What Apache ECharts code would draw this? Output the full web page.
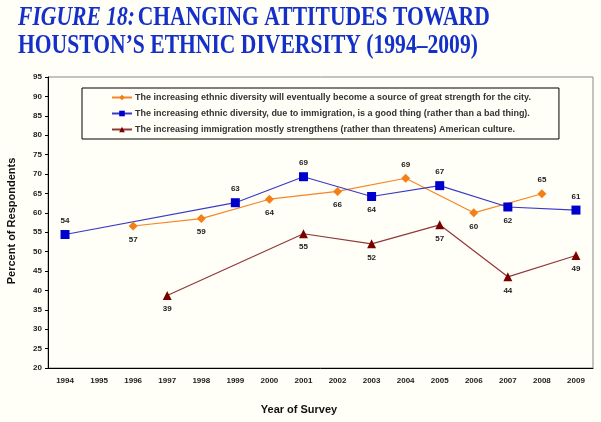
<!DOCTYPE html>
<html>
<head>
<meta charset="utf-8">
<script src="https://cdn.jsdelivr.net/npm/echarts@6/dist/echarts.min.js"></script>
<style>
  html, body { margin: 0; padding: 0; background: #fffef7; }
  #chart { width: 601px; height: 422px; }
</style>
</head>
<body>
<div id="chart"></div>
<script>
// 调查年份
const years = ["1994", "1995", "1996", "1997", "1998", "1999", "2000", "2001",
  "2002", "2003", "2004", "2005", "2006", "2007", "2008", "2009"];

const seriesNames = [
  "The increasing ethnic diversity will eventually become a source of great strength for the city.",
  "The increasing ethnic diversity, due to immigration, is a good thing (rather than a bad thing).",
  "The increasing immigration mostly strengthens (rather than threatens) American culture."
];

// 各年数值 (null = 当年未调查)
const strengthValues = [null, null, 56.6, null, 58.5, null, 63.5, null,
  65.5, null, 68.9, null, 60.0, null, 64.9, null];
const goodThingValues = [54.4, null, null, null, null, 62.6, null, 69.3,
  null, 64.2, null, 67.0, null, 61.5, null, 60.7];
const cultureValues = [null, null, null, 38.7, null, null, null, 54.6,
  null, 52.0, null, 56.9, null, 43.5, null, 49.0];

// 数据标签位置 (按年份)
const strengthAbove = ["2004", "2008"];
const goodThingBelow = ["2003", "2007"];

var myChart = echarts.init(document.getElementById("chart"));

function buildData(values, posFn) {
  return values.map(function (v, i) {
    if (v == null) return null;
    return { value: v, label: { position: posFn(years[i]) } };
  });
}

var labelStyle = {
  show: true,
  fontFamily: "Arial",
  fontWeight: "bold",
  fontSize: 8,
  color: "#222",
  distance: 5,
  formatter: function (p) {
    return Math.round(p.value);
  }
};

var titleColor = "#1430c8";

var option = {
  backgroundColor: "#fffef7",
  animation: false,
  legend: {
    orient: "vertical",
    left: 82,
    top: 88,
    padding: [5, 28, 5, 29],
    itemGap: 7,
    itemWidth: 20,
    itemHeight: 7,
    borderColor: "#000",
    borderWidth: 1,
    data: seriesNames,
    textStyle: {
      fontFamily: "Arial",
      fontWeight: "bold",
      fontSize: 9,
      color: "#333",
      padding: [0, 0, 0, -2]
    }
  },
  grid: {
    left: 48,
    right: 8,
    top: 77,
    bottom: 54,
    show: true,
    borderColor: "#888",
    borderWidth: 1,
    backgroundColor: "transparent"
  },
  xAxis: {
    type: "category",
    data: years,
    boundaryGap: true,
    axisLine: { lineStyle: { color: "#000", width: 1 } },
    axisTick: { show: false },
    axisLabel: {
      fontFamily: "Arial",
      fontWeight: "bold",
      fontSize: 8,
      color: "#222",
      margin: 9
    }
  },
  yAxis: {
    type: "value",
    min: 20,
    max: 95,
    interval: 5,
    splitLine: { show: false },
    axisLine: { show: true, lineStyle: { color: "#000", width: 1 } },
    axisTick: { show: true, length: 3, lineStyle: { color: "#000" } },
    axisLabel: {
      fontFamily: "Arial",
      fontWeight: "bold",
      fontSize: 8,
      color: "#222",
      margin: 6
    }
  },
  graphic: [
    {
      // 标题 (横向压缩的粗体衬线字)
      type: "group",
      x: 18,
      y: 4,
      scaleX: 0.8,
      children: [
        {
          type: "text",
          x: 0,
          y: 0,
          style: {
            text: "{i|FIGURE 18:} {b|CHANGING ATTITUDES TOWARD}\n{b|HOUSTON\u2019S ETHNIC DIVERSITY (1994\u20132009)}",
            rich: {
              i: {
                fontFamily: "Liberation Serif",
                fontStyle: "italic",
                fontWeight: "bold",
                fontSize: 27,
                fill: titleColor,
                lineHeight: 28
              },
              b: {
                fontFamily: "Liberation Serif",
                fontWeight: "bold",
                fontSize: 27,
                fill: titleColor,
                lineHeight: 28
              }
            }
          }
        }
      ]
    },
    {
      type: "text",
      x: 12,
      y: 221,
      rotation: Math.PI / 2,
      style: {
        text: "Percent of Respondents",
        fontFamily: "Arial",
        fontWeight: "bold",
        fontSize: 11,
        fill: "#111",
        align: "center",
        verticalAlign: "middle"
      }
    },
    {
      type: "text",
      x: 299,
      y: 410,
      style: {
        text: "Year of Survey",
        fontFamily: "Arial",
        fontWeight: "bold",
        fontSize: 11,
        fill: "#111",
        align: "center",
        verticalAlign: "middle"
      }
    }
  ],
  series: [
    {
      name: seriesNames[0],
      type: "line",
      connectNulls: true,
      symbol: "diamond",
      symbolSize: 9,
      lineStyle: { color: "#f5862a", width: 1.2 },
      itemStyle: { color: "#f57f17" },
      label: labelStyle,
      data: buildData(strengthValues, function (y) {
        return strengthAbove.indexOf(y) >= 0 ? "top" : "bottom";
      })
    },
    {
      name: seriesNames[1],
      type: "line",
      connectNulls: true,
      symbol: "rect",
      symbolSize: 9,
      lineStyle: { color: "#3a3ac8", width: 1.2 },
      itemStyle: { color: "#0000cc" },
      label: labelStyle,
      data: buildData(goodThingValues, function (y) {
        return goodThingBelow.indexOf(y) >= 0 ? "bottom" : "top";
      })
    },
    {
      name: seriesNames[2],
      type: "line",
      connectNulls: true,
      symbol: "triangle",
      symbolSize: 9,
      lineStyle: { color: "#8e3a3a", width: 1.2 },
      itemStyle: { color: "#7a0000" },
      label: labelStyle,
      data: buildData(cultureValues, function () {
        return "bottom";
      })
    }
  ]
};

myChart.setOption(option);
window.addEventListener("resize", function () {
  myChart.resize();
});
</script>
</body>
</html>
